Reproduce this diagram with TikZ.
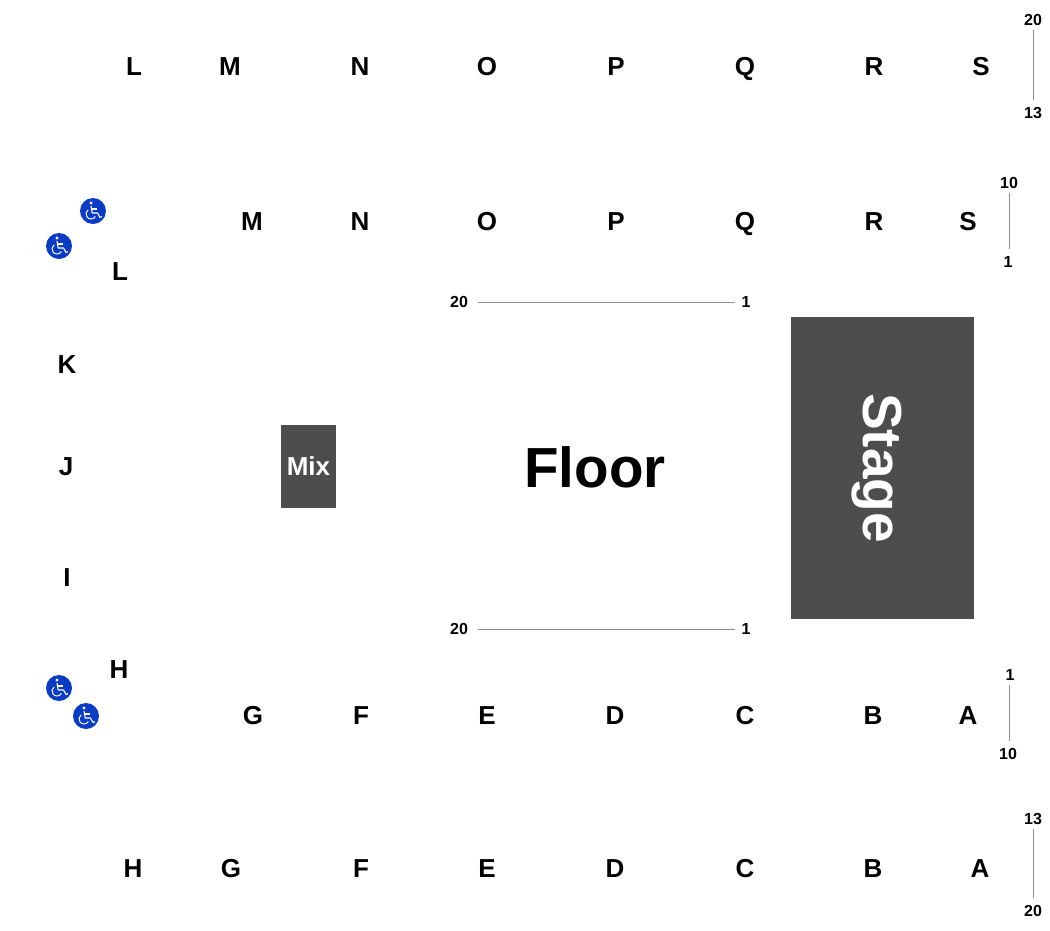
\documentclass[tikz,border=0pt]{standalone}
\usepackage{fontspec}
\setmainfont{Liberation Sans}
\definecolor{blockgray}{HTML}{4D4D4D}
\definecolor{linegray}{HTML}{909090}
\definecolor{accessblue}{HTML}{0A3BC4}
\tikzset{
  rowlabel/.style={font=\fontsize{26}{26}\selectfont\bfseries, inner sep=0pt, text height=19pt, text depth=0pt},
  seatnum/.style={font=\fontsize{16}{16}\selectfont\bfseries, inner sep=0pt, text height=11.5pt, text depth=0pt, outer sep=4pt},
  seatline/.style={draw=linegray, line width=1pt, shorten >=3pt},
  block/.style={fill=blockgray, text=white, inner sep=0pt, font=\bfseries},
  access/.style={circle, fill=accessblue, minimum size=26pt, inner sep=0pt},
  wheelchair/.pic={
    \fill[white] (-2,-8) circle(1.6);
    \draw[white, line width=1.1pt, line join=round] (-2,-5) -- (-0.8,2) -- (4.5,2) -- (7,6.5) -- (9,5.5);
    \draw[white, line width=1.1pt] (-1.5,-2) -- (3.5,-2);
    \draw[white, line width=1pt] (-2,3) ++(235:5) arc[start angle=235, end angle=30, radius=5];
  }
}
\begin{document}
\begin{tikzpicture}[x=1pt,y=-1pt]
  \useasboundingbox (0,0) rectangle (1050,930);
  % row letters, top
  \foreach \name/\x in {L/134,M/230,N/360,O/487,P/616,Q/745,R/874,S/981}
    \node[rowlabel] (top\name) at (\x,66) {\name};
  \foreach \name/\x in {M/252,N/360,O/487,P/616,Q/745,R/874,S/968}
    \node[rowlabel] (upper\name) at (\x,221) {\name};
  % row letters, side
  \node[rowlabel] (sideL) at (120,271) {L};
  \node[rowlabel] (sideK) at (67,364) {K};
  \node[rowlabel] (sideJ) at (66,466) {J};
  \node[rowlabel] (sideI) at (67,577) {I};
  \node[rowlabel] (sideH) at (119,669) {H};
  % row letters, bottom
  \foreach \name/\x in {G/253,F/361,E/487,D/615,C/745,B/873,A/968}
    \node[rowlabel] (lower\name) at (\x,715) {\name};
  \foreach \name/\x in {H/133,G/231,F/361,E/487,D/615,C/745,B/873,A/980}
    \node[rowlabel] (bottom\name) at (\x,868) {\name};
  % blocks
  \node[block, minimum width=183pt, minimum height=302pt] (stagebox) at (882.5,468) {};
  \node[text=white, rotate=-90, anchor=base, font=\fontsize{55}{55}\selectfont\bfseries, inner sep=0pt] (stage) at (863,468) {Stage};
  \node[block, minimum width=55pt, minimum height=83pt, font=\fontsize{26}{26}\selectfont\bfseries] (mix) at (308.5,466.5) {\raisebox{-1pt}{Mix}};
  \node[font=\fontsize{56.5}{56.5}\selectfont\bfseries, inner sep=0pt, anchor=base] (floor) at (595,487) {Floor};
  % seat numbers
  \foreach \id/\txt/\x/\y in {a/20/1033/20,b/13/1033/113,c/10/1009/183,d/1/1008/262,
      e/20/459/302,f/1/746/302,g/20/459/629,h/1/746/629,
      i/1/1010/675,j/10/1008/754,k/13/1033/819,l/20/1033/911}
    \node[seatnum] (num\id) at (\x,\y) {\txt};
  \foreach \from/\to in {a/b,k/l}
    \draw[seatline] (num\from) -- (num\to);
  \foreach \from/\to in {c/d,i/j}
    \draw[seatline] (num\from.south -| numc) -- (num\to.north -| numc);
  \foreach \from/\to in {e/f,g/h}
    \draw[seatline, shorten <=6pt] (num\from) -- (num\to);
  % wheelchair spots
  \foreach \id/\x/\y in {a/93/211,b/59/246,c/59/688,d/86/716} {
    \node[access] (access\id) at (\x,\y) {};
    \pic at (access\id) {wheelchair};
  }
\end{tikzpicture}
\end{document}
